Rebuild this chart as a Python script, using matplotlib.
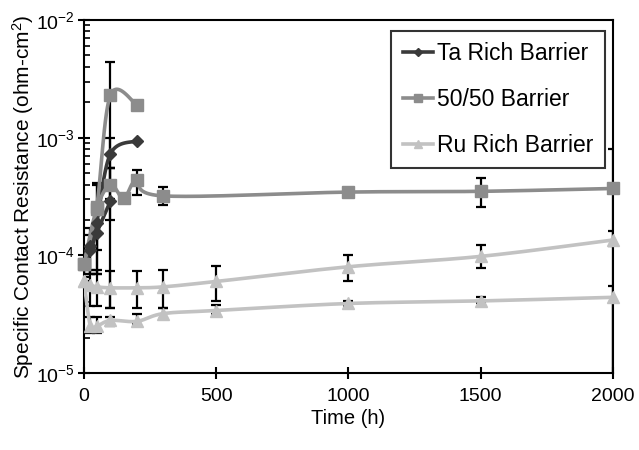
import numpy as np
import matplotlib
matplotlib.use("Agg")
import matplotlib.pyplot as plt
from matplotlib.ticker import LogLocator, NullFormatter
from matplotlib.lines import Line2D

plt.rcParams['font.family'] = ['Liberation Sans', 'DejaVu Sans']
plt.rcParams['mathtext.fontset'] = 'custom'
plt.rcParams['mathtext.rm'] = 'Liberation Sans'
plt.rcParams['mathtext.it'] = 'Liberation Sans'

# Ta rich barrier (two samples)
ta1_t = [0, 24, 48, 100, 200]
ta1_r = [8.5e-5, 1.2e-4, 1.9e-4, 7.3e-4, 9.4e-4]
ta1_lo = [6e-5, 7e-5, 7e-5, 5.5e-4, np.nan]
ta1_hi = [1.1e-4, 1.7e-4, 4.1e-4, 1.0e-3, np.nan]
ta2_t = [0, 24, 48, 100]
ta2_r = [8.5e-5, 1.1e-4, 1.55e-4, 2.9e-4]
ta2_lo = [np.nan, 7e-5, 1.1e-4, 3.6e-5]
ta2_hi = [np.nan, 1.5e-4, 2.2e-4, 5.5e-4]

# 50/50 barrier (two samples)
ff1_t = [0, 48, 100, 200]
ff1_r = [8.5e-5, 2.6e-4, 2.3e-3, 1.9e-3]
ff1_lo = [np.nan, np.nan, 2e-4, np.nan]
ff1_hi = [np.nan, np.nan, 4.4e-3, np.nan]
ff2_t = [0, 48, 100, 150, 200, 300, 1000, 1500, 2000]
ff2_r = [8.5e-5, 2.5e-4, 4.0e-4, 3.05e-4, 4.35e-4, 3.2e-4, 3.45e-4, 3.5e-4, 3.7e-4]
ff2_lo = [6.5e-5, 7e-5, 3.0e-4, np.nan, 3.25e-4, 2.7e-4, 3.3e-4, 2.6e-4, 1.2e-4]
ff2_hi = [1.1e-4, 4.0e-4, 5.5e-4, np.nan, 5.3e-4, 3.8e-4, 3.6e-4, 4.5e-4, 8e-4]

# Ru rich barrier (two samples)
ru1_t = [0, 24, 48, 100, 200, 300, 500, 1000, 1500, 2000]
ru1_r = [6e-5, 5.6e-5, 5.4e-5, 5.3e-5, 5.3e-5, 5.4e-5, 6e-5, 8e-5, 9.8e-5, 1.35e-4]
ru1_lo = [np.nan, 3.7e-5, 3.7e-5, 3.6e-5, 3.6e-5, 3.6e-5, 4.1e-5, 6.1e-5, 7.8e-5, 5e-6]
ru1_hi = [np.nan, 7.5e-5, 7.5e-5, 7.4e-5, 7.4e-5, 7.5e-5, 8.1e-5, 1.0e-4, 1.23e-4, 1.6e-4]
ru2_t = [0, 24, 48, 100, 200, 300, 500, 1000, 1500, 2000]
ru2_r = [6e-5, 2.5e-5, 2.5e-5, 2.8e-5, 2.75e-5, 3.2e-5, 3.4e-5, 3.9e-5, 4.1e-5, 4.4e-5]
ru2_lo = [np.nan, 2.2e-5, 2.2e-5, 2.5e-5, 2.6e-5, 2.9e-5, 3.2e-5, 3.7e-5, 3.9e-5, 5e-6]
ru2_hi = [np.nan, 3.0e-5, 3.0e-5, 3.0e-5, 3.2e-5, 3.6e-5, 3.8e-5, 4.1e-5, 4.4e-5, 5.5e-5]

labels = ['Ta Rich Barrier', '50/50 Barrier', 'Ru Rich Barrier']
colors = ['#3a3a3a', '#8c8c8c', '#c2c2c2']
markers = ['D', 's', '^']
msizes = [6.5, 8.5, 8.5]


def smooth(t, r):
    # Excel-like smoothed line, built in screen-proportional space
    px = np.asarray(t, float) / 2000 * 529
    py = (np.log10(r) + 5) / 3 * 353
    P = np.column_stack([px, py])
    n = len(P)
    out = [P[0]]
    for i in range(n - 1):
        p0 = P[max(i - 1, 0)]
        p1 = P[i]
        p2 = P[i + 1]
        p3 = P[min(i + 2, n - 1)]
        c1 = p1 + (p2 - p0) / 6
        c2 = p2 - (p3 - p1) / 6
        s = np.linspace(0, 1, 25)[1:, None]
        seg = ((1 - s) ** 3) * p1 + 3 * ((1 - s) ** 2) * s * c1 + 3 * (1 - s) * s ** 2 * c2 + s ** 3 * p2
        out.extend(seg)
    out = np.array(out)
    return out[:, 0] / 529 * 2000, 10 ** (out[:, 1] / 353 * 3 - 5)


fig = plt.figure(figsize=(6.39, 4.5), dpi=100)
ax = fig.add_axes([0.1315, 0.171, 0.8275, 0.7846])

groups = [
    [(ta1_t, ta1_r, ta1_lo, ta1_hi), (ta2_t, ta2_r, ta2_lo, ta2_hi)],
    [(ff1_t, ff1_r, ff1_lo, ff1_hi), (ff2_t, ff2_r, ff2_lo, ff2_hi)],
    [(ru1_t, ru1_r, ru1_lo, ru1_hi), (ru2_t, ru2_r, ru2_lo, ru2_hi)],
]

for k, group in enumerate(groups):
    for j, (t, r, lo, hi) in enumerate(group):
        t = np.array(t, float)
        r = np.array(r, float)
        lo = np.array(lo, float)
        hi = np.array(hi, float)
        ok = ~np.isnan(lo)
        ax.errorbar(t[ok], r[ok], yerr=[r[ok] - lo[ok], hi[ok] - r[ok]],
                    fmt='none', ecolor='black', elinewidth=1.6, capsize=3.5,
                    capthick=1.6, zorder=2)
        sx, sy = smooth(t, r)
        ax.plot(sx, sy, color=colors[k], lw=2.6, zorder=3 + k * 0.1)
        ax.plot(t, r, linestyle='none', marker=markers[k], ms=msizes[k],
                color=colors[k], zorder=4 + k * 0.1, clip_on=False)

# legend handles with line + marker
handles = [Line2D([], [], color=colors[k], lw=2.6, marker=markers[k], ms=msizes[k] - 2.5)
           for k in range(3)]
leg = ax.legend(handles, labels, loc='upper right', bbox_to_anchor=(0.9855, 0.97),
                fontsize=16.5, frameon=True, fancybox=False, edgecolor='black',
                borderpad=0.5, labelspacing=1.0, handlelength=1.3,
                handletextpad=0.2, borderaxespad=0)
leg.get_frame().set_linewidth(1.5)

ax.set_yscale('log')
ax.set_xlim(0, 2000)
ax.set_ylim(1e-5, 1e-2)
ax.set_xticks([0, 500, 1000, 1500, 2000])
ax.yaxis.set_minor_locator(LogLocator(base=10, subs=np.arange(2, 10), numticks=20))
ax.yaxis.set_minor_formatter(NullFormatter())
ax.tick_params(axis='x', which='major', direction='inout', length=9, width=1.5,
               labelsize=14, pad=6)
ax.tick_params(axis='y', which='major', direction='inout', length=9, width=1.5,
               labelsize=14, pad=2)
ax.tick_params(axis='y', which='minor', direction='in', length=4, width=1.2)
for s in ax.spines.values():
    s.set_linewidth(1.5)

ax.set_xlabel('Time (h)', fontsize=14.5, labelpad=3)
ax.set_ylabel('Specific Contact Resistance (ohm-cm$^2$)', fontsize=15, labelpad=0)

fig.savefig('out.png', dpi=100)
